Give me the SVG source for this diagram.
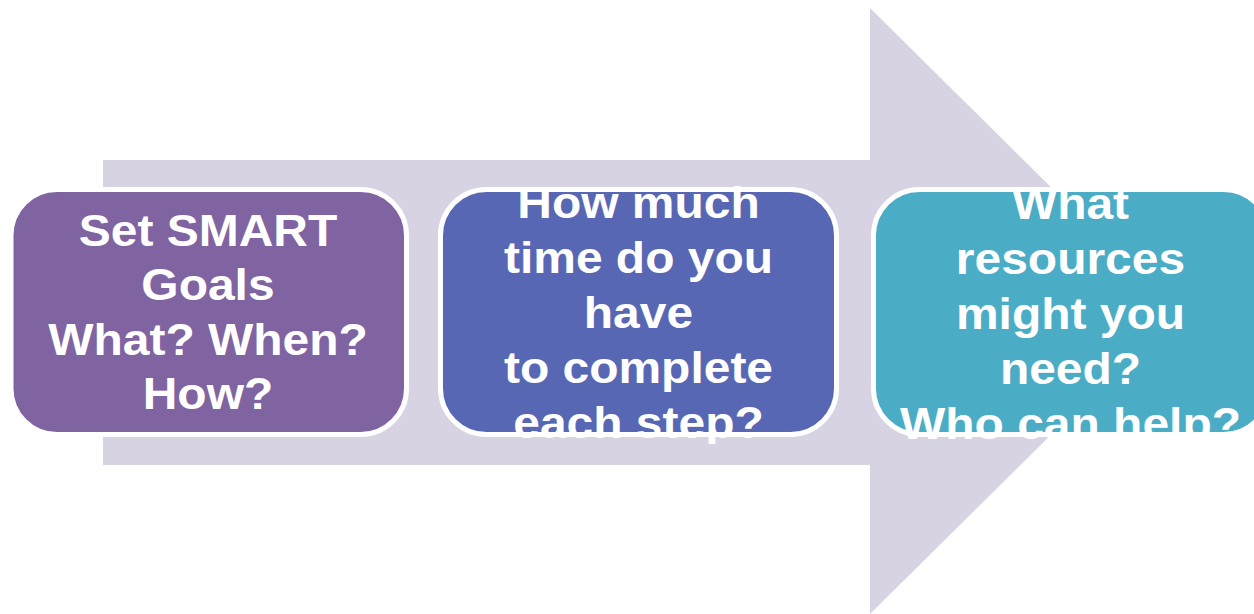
<svg xmlns="http://www.w3.org/2000/svg" width="1254" height="614" viewBox="0 0 1254 614">
<style>
.box{stroke:#ffffff;stroke-width:5}
.t{font-family:"Liberation Sans",Arial,sans-serif;font-weight:bold;font-size:44px;fill:#ffffff;text-anchor:middle}
</style>
<defs>
<clipPath id="c2"><rect x="438" y="186" width="401" height="258"/></clipPath>
<clipPath id="c3"><rect x="870" y="190" width="400" height="250"/></clipPath>
</defs>
<rect width="1254" height="614" fill="#ffffff"/>
<g id="arrow">
<polygon points="103,160 870,160 870,8 1176,311 870,614 870,465 103,465" fill="#d7d3e3"/>
</g>
<g id="connectors"></g>
<g id="node1">
<rect class="box" x="11" y="189.5" width="395.5" height="245" rx="46" fill="#8064a2"/>
<g transform="translate(208,0) scale(1.09,1) translate(-208,0)">
<text class="t" x="208" y="246">Set SMART</text>
<text class="t" x="208" y="300.5">Goals</text>
<text class="t" x="208" y="355">What? When?</text>
<text class="t" x="208" y="409.5">How?</text>
</g>
</g>
<g id="node2">
<rect class="box" x="440.5" y="189.5" width="396" height="245" rx="46" fill="#5867b3"/>
<g clip-path="url(#c2)">
<g transform="translate(638.5,0) scale(1.09,1) translate(-638.5,0)">
<text class="t" x="638.5" y="218">How much</text>
<text class="t" x="638.5" y="273">time do you</text>
<text class="t" x="638.5" y="328">have</text>
<text class="t" x="638.5" y="383">to complete</text>
<text class="t" x="638.5" y="438">each step?</text>
</g>
</g>
</g>
<g id="node3">
<rect class="box" x="873.5" y="189.5" width="396" height="245" rx="46" fill="#4bacc6"/>
<g clip-path="url(#c3)">
<g transform="translate(1070.5,0) scale(1.09,1) translate(-1070.5,0)">
<text class="t" x="1070.5" y="219">What</text>
<text class="t" x="1070.5" y="274">resources</text>
<text class="t" x="1070.5" y="329">might you</text>
<text class="t" x="1070.5" y="384">need?</text>
<text class="t" x="1070.5" y="439">Who can help?</text>
</g>
</g>
</g>
</svg>
